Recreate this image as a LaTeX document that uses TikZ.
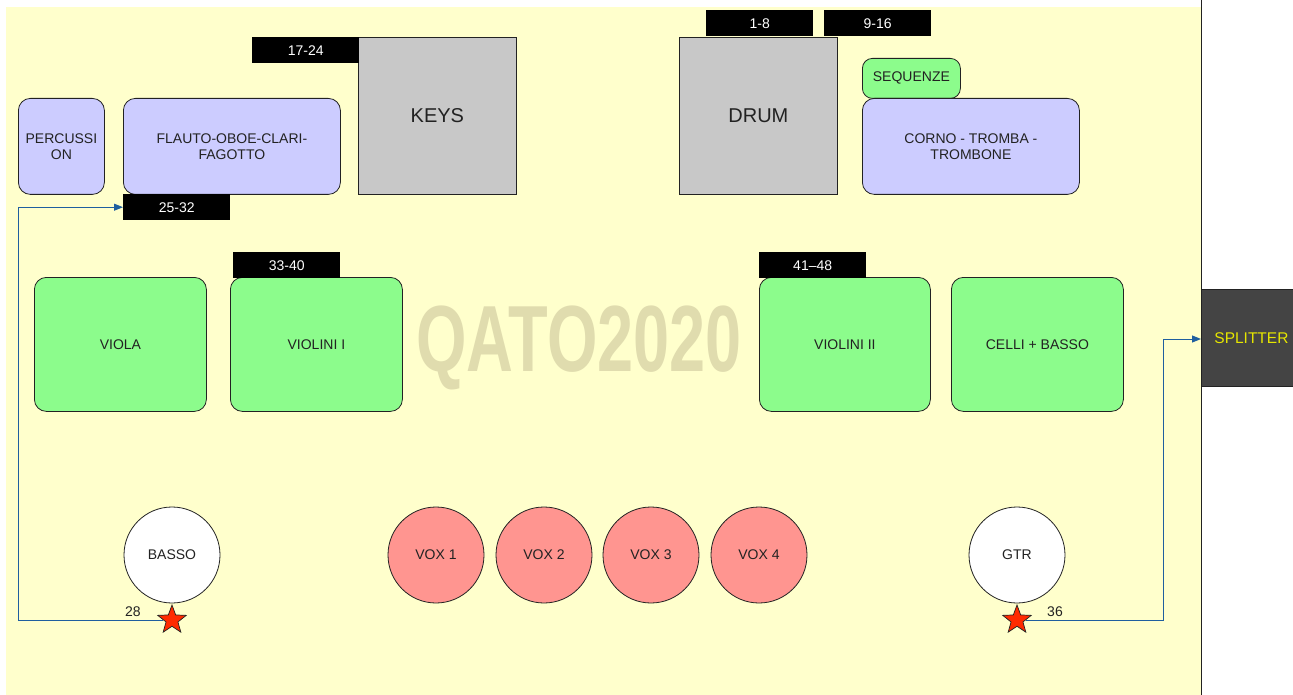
\documentclass[tikz,border=0pt]{standalone}
\usepackage{fontspec}
\setmainfont{Liberation Sans}
\usetikzlibrary{shapes.geometric,arrows.meta}
\definecolor{stage}{HTML}{FFFFCC}
\definecolor{woods}{HTML}{CCCCFF}
\definecolor{strings}{HTML}{8CFC8C}
\definecolor{inst}{HTML}{C8C8C8}
\definecolor{voxred}{HTML}{FF9590}
\definecolor{wire}{HTML}{1F5F9F}
\definecolor{splitbg}{HTML}{444444}
\definecolor{splittxt}{HTML}{E6E600}
\definecolor{logotint}{HTML}{E0DCAE}
\definecolor{ink}{HTML}{222222}
\definecolor{starred}{HTML}{FF2A00}

\tikzset{
    small/.style={font=\fontsize{14}{16}\selectfont},
    box/.style={draw=ink, line width=0.8pt, rounded corners=12pt, anchor=north west,
        inner sep=0pt, align=center, text=ink, small},
    wind/.style={box, fill=woods},
    str/.style={box, fill=strings},
    rig/.style={draw=ink, line width=0.8pt, fill=inst, anchor=north west, inner sep=0pt,
        text=ink, font=\fontsize{20}{24}\selectfont,
        minimum width=158pt, minimum height=157pt},
    chan/.style={fill=black, text=white, anchor=north west, inner sep=0pt,
        minimum width=107pt, minimum height=26pt, small},
    player/.style={circle, draw=ink, line width=0.8pt, minimum size=96pt, inner sep=0pt,
        text=ink, small},
    vox/.style={player, fill=voxred},
    solo/.style={player, fill=white},
    di/.style={star, star points=5, star point ratio=2.4, draw=ink, line width=0.7pt,
        fill=starred, minimum size=30pt, inner sep=0pt},
    cable/.style={draw=wire, line width=1pt, -{Triangle[length=9pt, width=7pt]}},
}

\begin{document}
\begin{tikzpicture}[x=1pt, y=-1pt]
    \useasboundingbox (0,0) rectangle (1293,695);

    % stage
    \fill[stage] (6,7) rectangle (1201,695);
    \draw[ink, line width=0.8pt] (1201,0) -- (1201,695);
    \node[font=\bfseries\fontsize{94}{94}\selectfont, text=logotint, xscale=0.69] (logo) at (579,348) {QATO2020};

    %% back row
    \node[wind, minimum width=86pt, minimum height=96pt] (perc) at (18,98) {PERCUSSI\\ON};
    \node[wind, minimum width=217pt, minimum height=96pt] (fiati) at (123,98) {FLAUTO-OBOE-CLARI-\\FAGOTTO};
    \node[chan] (ch25) at (123,194) {25-32};
    \node[rig] (keys) at (358,37) {KEYS};
    \node[chan] (ch17) at (252,37) {17-24};
    \node[rig] (drum) at (679,37) {DRUM};
    \node[chan] (ch1) at (706,10) {1-8};
    \node[chan] (ch9) at (824,10) {9-16};
    \node[str, rounded corners=10pt, minimum width=98pt, minimum height=40pt] (seq) at (862,58) {SEQUENZE};
    \node[wind, minimum width=217pt, minimum height=96pt] (ottoni) at (862,98) {CORNO - TROMBA -\\TROMBONE};

    %% strings
    \node[str, minimum width=172pt, minimum height=134pt] (viola) at (34,277) {VIOLA};
    \node[str, minimum width=172pt, minimum height=134pt] (vl1) at (230,277) {VIOLINI I};
    \node[chan] (ch33) at (233,252) {33-40};
    \node[str, minimum width=171pt, minimum height=134pt] (vl2) at (759,277) {VIOLINI II};
    \node[chan] (ch41) at (759,252) {41--48};
    \node[str, minimum width=172pt, minimum height=134pt] (celli) at (951,277) {CELLI + BASSO};

    %% front row
    \node[solo] (basso) at (172,555) {BASSO};
    \foreach \i/\x in {1/436, 2/544, 3/651, 4/759} {
        \node[vox] (vox\i) at (\x,555) {VOX \i};
    }
    \node[solo] (gtr) at (1017,555) {GTR};

    % DI boxes
    \node[di] (diBasso) at (172,620) {};
    \node[di] (diGtr) at (1017,620) {};
    \node[text=ink, small] (l28) at (133,612) {28};
    \node[text=ink, small] (l36) at (1055,612) {36};

    % splitter
    \node[fill=splitbg, draw=ink, line width=0.8pt, anchor=north west, inner sep=0pt,
        minimum width=100pt, minimum height=97pt, text=splittxt,
        font=\fontsize{15.5}{18}\selectfont, text width=92pt, align=left] (split) at (1201,289) {\hspace{9pt}SPLITTER};

    % cables
    \draw[cable] (diBasso.west) -- (18,620) |- (ch25.west);
    \draw[cable] (diGtr.east) -- (1163,620) |- (split.west |- 0,339);
\end{tikzpicture}
\end{document}
